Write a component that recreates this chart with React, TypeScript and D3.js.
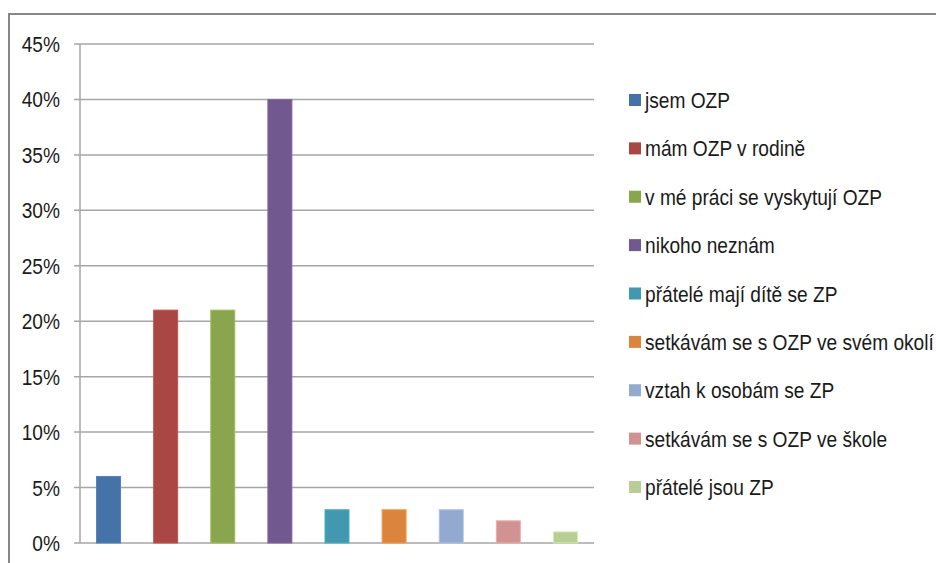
import React from "react";
import * as d3 from "d3";

const categories = [
  "jsem OZP",
  "mám OZP v rodině",
  "v mé práci se vyskytují OZP",
  "nikoho neznám",
  "přátelé mají dítě se ZP",
  "setkávám se s OZP ve svém okolí",
  "vztah k osobám se ZP",
  "setkávám se s OZP ve škole",
  "přátelé jsou ZP",
];
const values = [6, 21, 21, 40, 3, 3, 3, 2, 1];
const colors = [
  "#4572A7",
  "#AA4643",
  "#89A54E",
  "#71588F",
  "#4198AF",
  "#DB843D",
  "#93A9CF",
  "#D19392",
  "#B9CD96",
];
const yTicks = [0, 5, 10, 15, 20, 25, 30, 35, 40, 45];

const W = 936;
const H = 563;
const plot = { left: 80, right: 594, top: 44, bottom: 543 };
const FONT = "'Liberation Sans', Arial, sans-serif";
const SX = 0.87;
const FS = 22;

export default function App() {
  const x = d3
    .scaleBand<string>()
    .domain(categories)
    .range([plot.left, plot.right])
    .paddingInner(0)
    .paddingOuter(0);
  const y = d3.scaleLinear().domain([0, 45]).range([plot.bottom, plot.top]);
  const barW = x.bandwidth() * 0.42;

  const legendY = d3
    .scalePoint<string>()
    .domain(categories)
    .range([100, 487]);

  return (
    <svg
      width={W}
      height={H}
      style={{ position: "fixed", left: 0, top: 0, background: "#fff" }}
    >
      <rect x={0} y={0} width={W} height={H} fill="#fff" />
      {/* outer frame */}
      <rect
        x={9}
        y={14}
        width={W + 20}
        height={H + 20}
        fill="none"
        stroke="#878787"
        strokeWidth={2}
      />
      {/* gridlines */}
      {yTicks.map((t) => (
        <line
          key={t}
          x1={plot.left - 6}
          x2={plot.right}
          y1={y(t)}
          y2={y(t)}
          stroke="#a6a6a6"
          strokeWidth={1.5}
        />
      ))}
      {/* y axis line */}
      <line
        x1={plot.left}
        x2={plot.left}
        y1={plot.top}
        y2={plot.bottom}
        stroke="#a6a6a6"
        strokeWidth={1.5}
      />
      {/* tick labels */}
      {yTicks.map((t) => (
        <text
          key={t}
          transform={`translate(${60},${y(t)}) scale(${SX},1)`}
          textAnchor="end"
          dominantBaseline="central"
          fontFamily={FONT}
          fontSize={FS}
          fill="#1a1a1a"
        >
          {t}%
        </text>
      ))}
      {/* bars */}
      {categories.map((c, i) => {
        const cx = (x(c) as number) + x.bandwidth() / 2;
        return (
          <rect
            key={c}
            x={cx - barW / 2}
            y={y(values[i])}
            width={barW}
            height={y(0) - y(values[i])}
            fill={colors[i]}
            stroke={d3.color(colors[i])!.brighter(0.4).toString()}
            strokeWidth={1}
          />
        );
      })}
      {/* legend */}
      {categories.map((c, i) => {
        const ly = legendY(c) as number;
        return (
          <g key={c}>
            <rect x={629} y={ly - 6} width={12} height={12} fill={colors[i]} />
            <text
              transform={`translate(${645},${ly}) scale(${SX},1)`}
              dominantBaseline="central"
              fontFamily={FONT}
              fontSize={FS}
              fill="#1a1a1a"
            >
              {c}
            </text>
          </g>
        );
      })}
    </svg>
  );
}
